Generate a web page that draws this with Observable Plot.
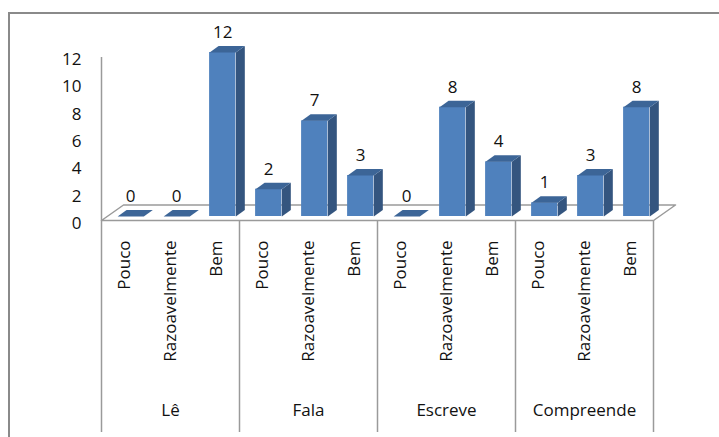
<!DOCTYPE html>
<html>
<head>
<meta charset="utf-8">
<script src="https://cdn.jsdelivr.net/npm/d3@7"></script>
<script src="https://cdn.jsdelivr.net/npm/@observablehq/plot@0.6"></script>
<style>
  html, body { margin: 0; padding: 0; background: #fff; }
  #wrap { position: relative; width: 719px; height: 437px; overflow: hidden; }
  #frame { position: absolute; left: 8px; top: 12px; width: 740px; height: 460px;
           border-top: 2px solid #8a8a8a; border-left: 2px solid #8a8a8a; box-sizing: border-box; }
  #wrap svg { position: absolute; left: 0; top: 0; }
</style>
</head>
<body>
<div id="wrap"><div id="frame"></div></div>
<script>
// ---- data ----
const groups = ["Lê", "Fala", "Escreve", "Compreende"];
const levels = ["Pouco", "Razoavelmente", "Bem"];
const values = [
  0, 0, 12,   // Lê
  2, 7, 3,    // Fala
  0, 8, 4,    // Escreve
  1, 3, 8     // Compreende
];
const yTicks = [0, 2, 4, 6, 8, 10, 12];

// ---- layout ----
const W = 719, H = 437;
const mL = 101, mR = 66, mT = 52, mB = 221;
const nBars = groups.length * levels.length;
const kx = (W - mL - mR) / nBars;       // px per x unit
const ky = (H - mT - mB) / 12;          // px per y unit
const px = p => p / kx;                 // pixel -> x units
const py = p => p / ky;                 // pixel -> y units

const faceA = 0.35, faceB = 0.92;       // front face within band
const depX = px(9), depY = py(6.5);     // bar depth

const bars = values.map((v, i) => ({
  i, v,
  group: groups[Math.floor(i / levels.length)],
  level: levels[i % levels.length]
}));

// polygons for 3D faces
const sides = [], tops = [];
bars.forEach(b => {
  const x0 = b.i + faceA, x1 = b.i + faceB;
  sides.push(
    {id: b.i, x: x1, y: 0}, {id: b.i, x: x1, y: b.v},
    {id: b.i, x: x1 + depX, y: b.v + depY}, {id: b.i, x: x1 + depX, y: depY}
  );
  tops.push(
    {id: b.i, x: x0, y: b.v}, {id: b.i, x: x1, y: b.v},
    {id: b.i, x: x1 + depX, y: b.v + depY}, {id: b.i, x: x0 + depX, y: b.v + depY}
  );
});

// floor parallelogram
const fFront = py(-4), fBack = py(11.5), fdx = px(22);
const floor = [
  {x: 0, y: fFront}, {x: nBars, y: fFront},
  {x: nBars + fdx, y: fBack}, {x: fdx, y: fBack}, {x: 0, y: fFront}
];

const seps = d3.range(0, nBars + 1, levels.length);
const groupCenters = groups.map((g, k) => ({g, x: k * levels.length + levels.length / 2}));

const font = "'Open Sans', sans-serif";

const chart = Plot.plot({
  width: W, height: H,
  marginLeft: mL, marginRight: mR, marginTop: mT, marginBottom: mB,
  style: {fontFamily: font, background: "transparent", overflow: "visible"},
  x: {domain: [0, nBars], axis: null},
  y: {domain: [0, 12], axis: null},
  marks: [
    // floor
    Plot.line(floor, {x: "x", y: "y", fill: "#fff", stroke: "#9a9a9a", strokeWidth: 1.5}),
    // y axis line
    Plot.ruleX([0], {y1: py(-4), y2: 12 + py(-5), stroke: "#9a9a9a", strokeWidth: 1.5}),
    // group separators
    Plot.ruleX(seps, {y1: py(-4), y2: py(-216), stroke: "#9a9a9a", strokeWidth: 1.5}),
    // y tick labels
    Plot.text(yTicks, {x: 0, y: d => d, text: d => String(d), textAnchor: "end",
      dx: -20, dy: 7, fontSize: 17, fill: "#111"}),
    // bars: front faces
    Plot.rectY(bars, {x1: d => d.i + faceA, x2: d => d.i + faceB, y1: 0, y2: "v", fill: "#4F81BD"}),
    // side faces
    Plot.line(sides, {x: "x", y: "y", z: "id", fill: "#34557F", stroke: null}),
    // top caps
    Plot.line(tops, {x: "x", y: "y", z: "id", fill: "#3C6597", stroke: null}),
    // value labels
    Plot.text(bars, {x: d => d.i + (faceA + faceB) / 2, y: "v", text: d => String(d.v),
      dy: -20, fontSize: 17, fill: "#111"}),
    // category labels (rotated)
    Plot.text(bars, {x: d => d.i + 0.5, y: 0, text: "level", rotate: -90, textAnchor: "end",
      dy: 24, fontSize: 17, fill: "#111"}),
    // group labels
    Plot.text(groupCenters, {x: "x", y: 0, text: "g", dy: 194, fontSize: 17, fill: "#111"})
  ]
});

document.getElementById("wrap").appendChild(chart);
</script>
</body>
</html>
